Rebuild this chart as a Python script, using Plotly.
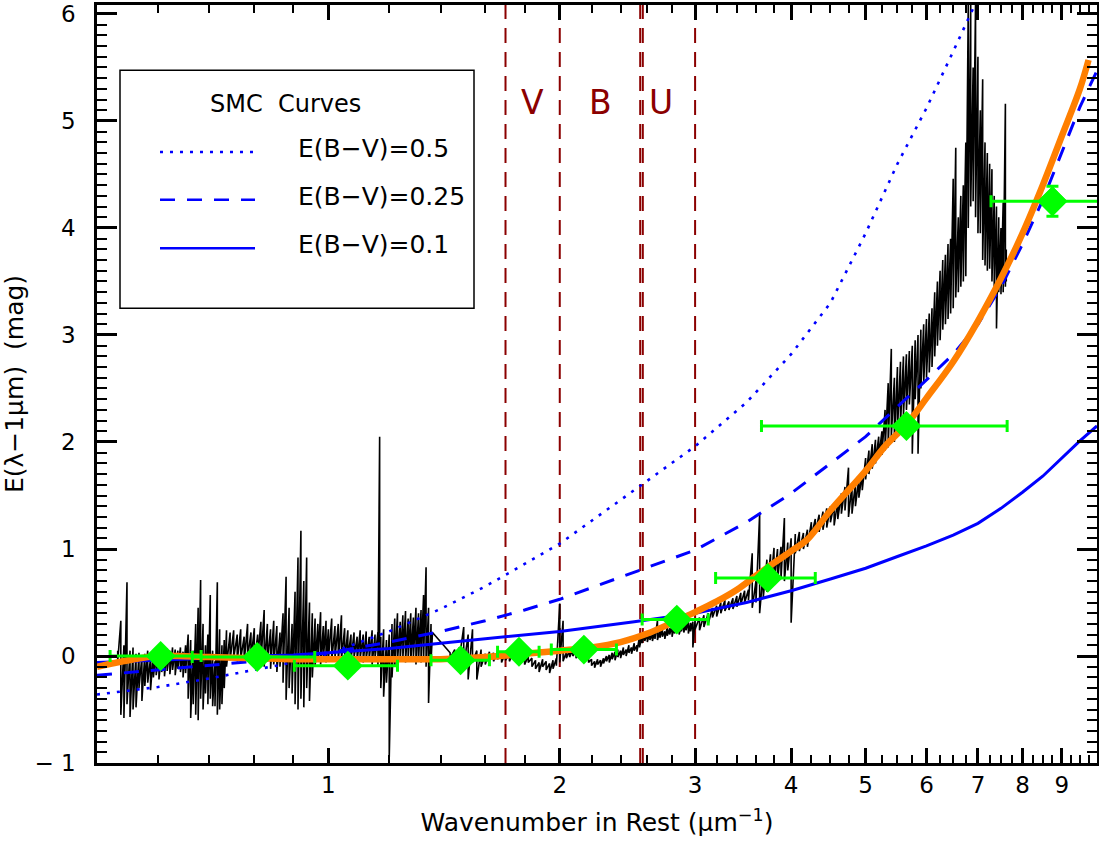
import numpy as np
import plotly.graph_objects as go

# ---------------- data ----------------
# observed spectrum: x (1/um), lower / upper excursion of the noisy trace
spec_x = [0.532, 0.537, 0.542, 0.547, 0.552, 0.557, 0.562, 0.567, 0.572, 0.577, 0.582, 0.587,
          0.592, 0.597, 0.602, 0.607, 0.612, 0.617, 0.622, 0.627, 0.632, 0.637, 0.642, 0.647,
          0.652, 0.657, 0.662, 0.667, 0.672, 0.677, 0.682, 0.687, 0.692, 0.697, 0.702, 0.707,
          0.712, 0.717, 0.722, 0.727, 0.732, 0.737, 0.745, 0.753, 0.761, 0.769, 0.777, 0.785,
          0.793, 0.801, 0.809, 0.817, 0.825, 0.833, 0.841, 0.849, 0.857, 0.865, 0.873, 0.881,
          0.889, 0.897, 0.905, 0.913, 0.921, 0.929, 0.937, 0.945, 0.953, 0.961, 0.969, 0.977,
          0.985, 0.993, 1.000, 1.01, 1.02, 1.03, 1.04, 1.05, 1.06, 1.07, 1.08, 1.09, 1.10, 1.11,
          1.12, 1.13, 1.14, 1.15, 1.16, 1.166, 1.17, 1.18, 1.19, 1.20, 1.21, 1.22, 1.23, 1.24,
          1.25, 1.26, 1.27, 1.28, 1.29, 1.30, 1.31, 1.32, 1.33, 1.34, 1.35, 1.36, 1.366,
          1.44, 1.46, 1.48, 1.50, 1.52, 1.54, 1.56, 1.58, 1.60, 1.62, 1.64, 1.66, 1.68, 1.70,
          1.72, 1.74, 1.76, 1.78, 1.80, 1.82, 1.84, 1.86, 1.88, 1.90, 1.92, 1.94, 1.96, 1.98,
          2.00, 2.02, 2.04, 2.06, 2.08, 2.10, 2.12, 2.14, 2.16, 2.18, 2.20, 2.22, 2.24, 2.26,
          2.28, 2.30, 2.32, 2.34, 2.36, 2.38, 2.40, 2.42, 2.44, 2.46, 2.48, 2.50, 2.52, 2.54,
          2.56, 2.58, 2.60, 2.62, 2.64, 2.66, 2.68, 2.70, 2.72, 2.74, 2.76, 2.78, 2.80, 2.82,
          2.84, 2.86, 2.88, 2.90, 2.92, 2.94, 2.96, 2.98, 3.00,
          3.04, 3.08, 3.12, 3.16, 3.20, 3.24, 3.28, 3.32, 3.36, 3.40, 3.44, 3.48, 3.52, 3.56,
          3.60, 3.64, 3.68, 3.72, 3.76, 3.80, 3.84, 3.88, 3.92, 3.96, 4.00, 4.05, 4.10, 4.15,
          4.20, 4.25, 4.30, 4.35, 4.40, 4.45, 4.50, 4.55, 4.60, 4.65, 4.70, 4.75, 4.80, 4.85,
          4.90, 4.95, 5.00, 5.05, 5.10, 5.15, 5.20, 5.25, 5.30, 5.35, 5.40, 5.45, 5.50, 5.55,
          5.60, 5.65, 5.70, 5.75, 5.80, 5.85, 5.90, 5.95, 6.00, 6.05, 6.10, 6.15, 6.20, 6.25,
          6.30, 6.35, 6.40, 6.45, 6.50, 6.55, 6.60, 6.65, 6.70, 6.75, 6.80, 6.85, 6.90, 6.95,
          7.00, 7.05, 7.10, 7.15, 7.20, 7.25, 7.30, 7.35, 7.40, 7.45, 7.50, 7.55, 7.60, 7.62]
spec_lo = [-0.05, -0.55, -0.58, -0.45, -0.57, -0.50, -0.48, -0.30, -0.42, -0.28, -0.25, -0.32,
           -0.20, -0.18, -0.22, -0.15, -0.19, -0.14, -0.17, -0.13, -0.18, -0.12, -0.15, -0.20,
           -0.16, -0.40, -0.58, -0.45, -0.55, -0.60, -0.40, -0.50, -0.35, -0.45, -0.40, -0.47,
           -0.47, -0.55, -0.50, -0.45, -0.30, -0.10, -0.04, -0.02, -0.05, -0.03, -0.06, -0.02,
           -0.04, -0.08, -0.03, -0.06, -0.10, -0.05, -0.12, -0.08, -0.15, -0.10, -0.25, -0.41,
           -0.30, -0.35, -0.45, -0.50, -0.40, -0.48, -0.30, -0.42, -0.20, -0.10, -0.05, -0.08,
           -0.04, -0.06, -0.03, -0.05, -0.02, -0.06, -0.03, -0.05, -0.02, -0.04, -0.01, -0.05,
           -0.02, -0.06, -0.03, -0.04, -0.08, -0.02, -0.10, -0.05, -0.30, -0.38, -0.25, -0.95,
           -0.20, -0.10, -0.05, -0.04, -0.02, -0.06, -0.03, -0.05, -0.02, -0.08, -0.04, -0.06,
           -0.03, -0.10, -0.44, -0.05, 0.22,
           -0.02, -0.04, -0.03, -0.10, -0.22, -0.06, -0.22, -0.10, -0.08, -0.04, -0.05, -0.03,
           -0.06, -0.04, -0.05, -0.03, -0.06, -0.05, -0.08, -0.06, -0.10, -0.12, -0.15, -0.10,
           -0.13, -0.16, -0.12, -0.09, -0.06, -0.05, -0.02, -0.01, 0.00, -0.02, -0.01, -0.03,
           -0.02, -0.06, -0.09, -0.11, -0.08, -0.10, -0.07, -0.05, -0.06, -0.03, -0.04, -0.01,
           -0.02, 0.01, 0.00, 0.03, 0.02, 0.05, 0.04, 0.08, 0.12, 0.14, 0.13, 0.15, 0.14, 0.16,
           0.15, 0.17, 0.18, 0.16, 0.19, 0.20, 0.18, 0.21, 0.22, 0.20, 0.23, 0.22, 0.24, 0.21,
           0.23, 0.08, 0.25,
           0.24, 0.27, 0.30, 0.36, 0.37, 0.40, 0.42, 0.43, 0.44, 0.46, 0.48, 0.50, 0.52, 0.45,
           0.50, 0.40, 0.55, 0.60, 0.65, 0.68, 0.70, 0.72, 0.70, 0.80, 0.31, 0.96, 0.98, 1.00,
           1.02, 1.12, 1.15, 1.16, 1.18, 1.20, 1.25, 1.22, 1.28, 1.33, 1.36, 1.30, 1.33, 1.40,
           1.48, 1.55, 1.65, 1.70, 1.75, 1.80, 1.85, 1.88, 1.92, 1.95, 2.05, 2.00, 2.10, 2.15,
           2.25, 2.30, 2.35, 1.89, 2.40, 1.89, 2.50, 2.55, 2.60, 2.65, 2.70, 2.80, 2.90, 2.95,
           3.05, 3.10, 3.15, 3.20, 3.25, 3.35, 3.40, 3.45, 3.50, 3.55, 4.00, 4.20, 4.25, 4.10,
           3.95, 3.95, 3.70, 3.65, 3.60, 3.62, 3.50, 3.45, 3.06, 3.40, 3.38, 3.40, 3.45, 3.50]
spec_hi = [0.05, 0.33, 0.10, 0.69, 0.05, 0.08, 0.02, 0.03, 0.00, 0.02, 0.05, -0.02,
           0.04, 0.05, 0.03, 0.06, 0.04, 0.07, 0.05, 0.08, 0.06, 0.05, 0.08, 0.04,
           0.10, 0.20, 0.15, 0.05, 0.30, 0.45, 0.71, 0.30, 0.10, 0.20, 0.57, 0.05,
           -0.05, 0.69, 0.25, 0.10, 0.15, 0.24, 0.22, 0.24, 0.20, 0.25, 0.18, 0.30,
           0.22, 0.26, 0.20, 0.32, 0.43, 0.30, 0.25, 0.33, 0.28, 0.22, 0.40, 0.74,
           0.45, 0.30, 0.60, 0.92, 1.17, 0.70, 0.92, 0.50, 0.40, 0.35, 0.30, 0.41,
           0.28, 0.33, 0.25, 0.35, 0.28, 0.30, 0.38, 0.26, 0.24, 0.20, 0.22, 0.18, 0.24, 0.20,
           0.23, 0.18, 0.24, 0.20, 0.22, 2.05, 0.18, 0.25, 0.15, 0.20, 0.30, 0.35, 0.40, 0.32,
           0.38, 0.42, 0.35, 0.40, 0.36, 0.45, 0.40, 0.43, 0.57, 0.83, 0.45, 0.30, 0.22,
           0.03, 0.06, 0.08, 0.27, 0.20, 0.25, 0.05, 0.06, 0.02, 0.04, 0.03, 0.04, 0.02, 0.03,
           0.02, 0.03, 0.01, 0.02, -0.01, 0.00, -0.02, -0.04, -0.06, -0.03, -0.05, -0.07, -0.04, -0.02,
           0.49, 0.33, 0.04, 0.05, 0.06, 0.04, 0.05, 0.03, 0.02, 0.00, -0.03, -0.05, -0.03, -0.04,
           -0.02, 0.00, 0.01, 0.03, 0.04, 0.06, 0.05, 0.08, 0.06, 0.10, 0.08, 0.12, 0.10, 0.18,
           0.20, 0.22, 0.21, 0.23, 0.20, 0.24, 0.33, 0.24, 0.26, 0.23, 0.27, 0.26, 0.28, 0.30,
           0.28, 0.31, 0.29, 0.32, 0.30, 0.33, 0.31, 0.32, 0.34,
           0.36, 0.38, 0.40, 0.45, 0.47, 0.50, 0.52, 0.51, 0.54, 0.56, 0.59, 0.61, 0.62, 0.96,
           0.70, 1.33, 0.80, 0.90, 0.95, 1.01, 1.00, 1.02, 1.29, 1.06, 1.10, 1.14, 1.16, 1.15,
           1.18, 1.25, 1.28, 1.32, 1.35, 1.38, 1.40, 1.42, 1.45, 1.52, 1.58, 1.76, 1.60, 1.62,
           1.66, 1.72, 1.85, 1.92, 1.98, 2.02, 2.05, 2.10, 2.30, 2.55, 2.87, 2.60, 2.70, 2.75,
           2.80, 2.82, 2.85, 2.90, 2.95, 3.00, 3.05, 3.10, 3.15, 3.20, 3.25, 3.40, 3.50, 3.60,
           3.70, 3.75, 3.85, 3.90, 4.46, 4.75, 4.10, 4.30, 4.40, 4.80, 6.10, 6.10, 5.50, 6.10,
           5.60, 5.10, 5.39, 4.80, 4.70, 4.60, 4.55, 4.30, 4.20, 4.10, 4.00, 4.24, 5.16, 3.80]

# smooth fit (orange)
fit_x = [0.5, 0.55, 0.6, 0.7, 0.8, 0.9, 1.0, 1.2, 1.4, 1.6, 1.8, 2.0, 2.2, 2.4, 2.6, 2.8,
         3.0, 3.2, 3.4, 3.6, 3.8, 4.0, 4.2, 4.5, 5.0, 5.3, 5.66, 6.0, 6.5, 7.0, 7.5, 8.0,
         8.5, 9.0, 9.5, 9.75]
fit_y = [-0.10, -0.04, 0.00, -0.01, -0.02, -0.03, -0.03, -0.03, -0.03, -0.01, 0.02, 0.05,
         0.08, 0.13, 0.21, 0.31, 0.41, 0.51, 0.62, 0.75, 0.87, 0.98, 1.09, 1.36, 1.73, 1.96,
         2.17, 2.41, 2.75, 3.13, 3.53, 3.95, 4.40, 4.86, 5.30, 5.57]

# SMC extinction curves
smc_x = [0.5, 0.6, 0.7, 0.8, 0.9, 1.0, 1.2, 1.4, 1.6, 1.8, 2.0, 2.5, 3.0, 3.5, 4.0, 4.5,
         5.0, 5.5, 6.0, 6.5, 7.0, 7.5, 8.0, 8.5, 9.0, 9.5, 10.0]
smc_ebv010 = [-0.06, -0.04, -0.02, 0.00, 0.01, 0.03, 0.07, 0.12, 0.16, 0.20, 0.23, 0.32, 0.40,
              0.50, 0.61, 0.72, 0.82, 0.93, 1.03, 1.13, 1.24, 1.38, 1.53, 1.68, 1.85, 2.01, 2.15]
smc_ebv025 = [-0.18, -0.13, -0.09, -0.05, -0.01, 0.03, 0.13, 0.23, 0.33, 0.43, 0.53, 0.78, 0.99,
              1.25, 1.52, 1.80, 2.05, 2.33, 2.58, 2.82, 3.10, 3.45, 3.85, 4.26, 4.70, 5.13, 5.47]
smc050_x = [0.5, 0.6, 0.7, 0.8, 0.9, 1.0, 1.2, 1.4, 1.6, 1.8, 2.0, 2.5, 3.0, 3.5, 4.0, 4.5,
            5.0, 5.5, 6.0, 6.5, 7.0]
smc_ebv050 = [-0.36, -0.29, -0.21, -0.13, -0.06, 0.02, 0.23, 0.44, 0.65, 0.86, 1.05, 1.55, 1.96,
              2.37, 2.82, 3.30, 3.95, 4.60, 5.12, 5.65, 6.15]

# photometric points (green)
pt_x = [0.605, 0.808, 1.06, 1.486, 1.77, 2.15, 2.84, 3.73, 5.65, 8.75]
pt_y = [0.00, -0.01, -0.09, -0.04, 0.04, 0.06, 0.34, 0.73, 2.15, 4.25]
pt_xlo = [0.52, 0.665, 0.903, 1.36, 1.66, 1.95, 2.56, 3.19, 3.66, 7.28]
pt_xhi = [0.683, 0.96, 1.23, 1.62, 1.88, 2.37, 3.12, 4.30, 7.64, 10.5]
pt_yerr = [0, 0, 0, 0, 0, 0, 0, 0, 0, 0.14]

# band edges and labels
band_edges = [1.70, 2.00, 2.545, 2.565, 3.00]
band_names = ["V", "B", "U"]
band_centers = [1.845, 2.26, 2.71]
band_label_y = 5.17

x_major = [1, 2, 3, 4, 5, 6, 7, 8, 9]
x_minor = [0.6, 0.7, 0.8, 0.9, 1.2, 1.4, 1.6, 1.8, 2.2, 2.4, 2.6, 2.8, 3.2, 3.4, 3.6, 3.8,
           4.25, 4.5, 4.75, 5.25, 5.5, 5.75, 6.25, 6.5, 6.75, 7.25, 7.5, 7.75, 8.25, 8.5,
           8.75, 9.25, 9.5, 9.75]
y_major = [-1, 0, 1, 2, 3, 4, 5, 6]
Y_RANGE = [-1.0, 6.084]
X_RANGE = [0.5, 10.0]

legend_title = "SMC  Curves"
legend_labels = ["E(B\u2212V)=0.5", "E(B\u2212V)=0.25", "E(B\u2212V)=0.1"]

# ---------------- figure ----------------
BLUE = "#0000ff"
RED = "#8b0000"
GREEN = "#00ff00"
ORANGE = "#ff7f00"
FONT = "DejaVu Sans"

fig = go.Figure()

for e in band_edges:
    fig.add_trace(go.Scatter(x=[e, e], y=Y_RANGE, mode="lines",
                             line=dict(color=RED, width=2, dash="15px,9px"),
                             hoverinfo="skip"))

zig_x, zig_y = [], []
for x, lo, hi in zip(spec_x, spec_lo, spec_hi):
    zig_x += [x, x]
    zig_y += [hi, lo]
fig.add_trace(go.Scatter(x=zig_x, y=zig_y, mode="lines",
                         line=dict(color="black", width=1.6)))

fig.add_trace(go.Scatter(x=smc050_x, y=smc_ebv050, mode="lines",
                         line=dict(color=BLUE, width=2.6, dash="3px,7px")))
fig.add_trace(go.Scatter(x=smc_x, y=smc_ebv025, mode="lines",
                         line=dict(color=BLUE, width=3, dash="15px,12px")))
fig.add_trace(go.Scatter(x=smc_x, y=smc_ebv010, mode="lines",
                         line=dict(color=BLUE, width=3)))

fig.add_trace(go.Scatter(x=fit_x, y=fit_y, mode="lines",
                         line=dict(color=ORANGE, width=6.5, shape="spline")))

fig.add_trace(go.Scatter(
    x=pt_x, y=pt_y, mode="markers",
    marker=dict(symbol="diamond", size=23, color=GREEN),
    error_x=dict(type="data", symmetric=False,
                 array=[h - x for h, x in zip(pt_xhi, pt_x)],
                 arrayminus=[x - l for l, x in zip(pt_xlo, pt_x)],
                 color=GREEN, thickness=3, width=6)))
idx = [i for i, v in enumerate(pt_yerr) if v > 0]
fig.add_trace(go.Scatter(
    x=[pt_x[i] for i in idx], y=[pt_y[i] for i in idx], mode="markers",
    marker=dict(symbol="diamond", size=23, color=GREEN),
    error_y=dict(type="data", array=[pt_yerr[i] for i in idx],
                 color=GREEN, thickness=3, width=6)))

for name, xc in zip(band_names, band_centers):
    fig.add_annotation(x=np.log10(xc), y=band_label_y, text=name, showarrow=False,
                       xanchor="center", yanchor="middle",
                       font=dict(family=FONT, size=33, color=RED))

# legend box drawn by hand
fig.add_shape(type="rect", xref="paper", yref="paper", x0=0.023, x1=0.377, y0=0.600, y1=0.914,
              line=dict(color="black", width=1.5), fillcolor="white", layer="above")
fig.add_annotation(xref="paper", yref="paper", x=0.188, y=0.869, text=legend_title,
                   showarrow=False, xanchor="center", yanchor="middle",
                   font=dict(family=FONT, size=24, color="black"))
leg_y = [0.806, 0.743, 0.679]
leg_dash = ["3px,7px", "15px,12px", "solid"]
for yy, dsh, lab in zip(leg_y, leg_dash, legend_labels):
    fig.add_shape(type="line", xref="paper", yref="paper", x0=0.063, x1=0.158, y0=yy, y1=yy,
                  line=dict(color=BLUE, width=2.6, dash=dsh), layer="above")
    fig.add_annotation(xref="paper", yref="paper", x=0.199, y=yy + 0.005, text=lab,
                       xanchor="left", yanchor="middle", showarrow=False,
                       font=dict(family=FONT, size=25, color="black"))

axis_common = dict(showline=True, linecolor="black", linewidth=2.5, mirror="allticks",
                   ticks="inside", tickcolor="black", tickwidth=2.5, showgrid=False,
                   zeroline=False, ticklabeloverflow="allow",
                   tickfont=dict(family=FONT, size=23, color="black"))

fig.update_xaxes(type="log", range=[np.log10(X_RANGE[0]), np.log10(X_RANGE[1])],
                 tickmode="array", tickvals=x_major, ticktext=[str(v) for v in x_major],
                 ticklen=15,
                 minor=dict(tickmode="array", tickvals=x_minor, ticks="inside", ticklen=8,
                            tickwidth=2, tickcolor="black"),
                 title=dict(text="Wavenumber in Rest (\u00b5m<sup>\u22121</sup>)",
                            font=dict(family=FONT, size=25, color="black"), standoff=17),
                 **axis_common)
fig.update_yaxes(range=Y_RANGE, tickmode="array", tickvals=y_major,
                 ticktext=[("\u2212 " + str(-v)) if v < 0 else str(v) for v in y_major],
                 ticklen=20, ticklabelstandoff=14,
                 minor=dict(dtick=0.1, ticks="inside", ticklen=10, tickwidth=2,
                            tickcolor="black"),
                 title=dict(text="E(\u03bb\u22121\u00b5m)  (mag)",
                            font=dict(family=FONT, size=25, color="black"), standoff=8),
                 **axis_common)

fig.update_layout(width=1099, height=842, showlegend=False,
                  margin=dict(l=97, r=2, t=5, b=79, autoexpand=False),
                  plot_bgcolor="white", paper_bgcolor="white",
                  font=dict(family=FONT))

fig.write_html("out.html", config={"displayModeBar": False},
               post_script="document.body.style.margin='0';document.body.style.padding='0';")
